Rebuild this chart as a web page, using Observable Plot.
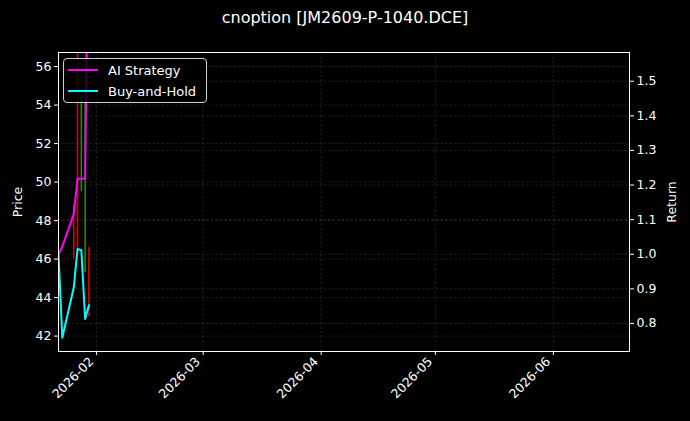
<!DOCTYPE html>
<html>
<head>
<meta charset="utf-8">
<script src="https://cdn.jsdelivr.net/npm/d3@7"></script>
<script src="https://cdn.jsdelivr.net/npm/@observablehq/plot@0.6"></script>
<style>
  html, body { margin: 0; padding: 0; background: #000; }
  #wrap { position: relative; width: 690px; height: 421px; background: #000; font-family: "DejaVu Sans", sans-serif; color: #fff; }
  #title { height: 36px; box-sizing: border-box; padding-top: 8px; text-align: center; font-size: 16px; line-height: 20px; color: #fff; }
  #legend { position: absolute; left: 63px; top: 58px; width: 144px; height: 45px; box-sizing: border-box;
            border: 1px solid #cfcfcf; border-radius: 4px; background: rgba(0,0,0,0.8); font-size: 13px; }
  .entry { position: absolute; left: 4px; height: 20px; display: flex; align-items: center; }
  .entry span.sw { display: inline-block; width: 30px; height: 2px; margin-right: 10px; }
</style>
</head>
<body>
<div id="wrap">
  <div id="title">cnoption [JM2609-P-1040.DCE]</div>
  <div id="chart"></div>
  <div id="legend">
    <div class="entry" style="top:1px"><span class="sw" style="background:#ff00ff"></span>AI Strategy</div>
    <div class="entry" style="top:22px"><span class="sw" style="background:#00ffff"></span>Buy-and-Hold</div>
  </div>
</div>
<script>
// ---- data ----
const dates = ["2026-01-22","2026-01-23","2026-01-26","2026-01-27","2026-01-28","2026-01-29","2026-01-30"];
const aiStrategy = [1.0, 1.022, 1.116, 1.218, 1.218, 1.218, 2.2];
const buyHold    = [1.0, 0.759, 0.903, 1.015, 1.012, 0.813, 0.853];

const candleDates = ["2026-01-26","2026-01-27","2026-01-28","2026-01-29","2026-01-30"];
const candleOpen  = [46.0, 46.4, 54.5, 54.2, 43.0];
const candleClose = [48.8, 58.0, 49.5, 45.3, 46.6];

const priceTicks  = [42, 44, 46, 48, 50, 52, 54, 56];
const returnTicks = [0.8, 0.9, 1.0, 1.1, 1.2, 1.3, 1.4, 1.5];
const monthTicks  = ["2026-02-01","2026-03-01","2026-04-01","2026-05-01","2026-06-01"];

// ---- scales ----
const xDomain = [new Date("2026-01-22"), new Date("2026-06-21")];
const priceDomain = [41.2, 56.73];
const returnDomain = [0.719, 1.583];
const r2p = r => priceDomain[0] + (r - returnDomain[0]) * (priceDomain[1] - priceDomain[0]) / (returnDomain[1] - returnDomain[0]);
const p2r = p => returnDomain[0] + (p - priceDomain[0]) * (returnDomain[1] - returnDomain[0]) / (priceDomain[1] - priceDomain[0]);

const series = dates.map((d, i) => ({date: new Date(d), ai: r2p(aiStrategy[i]), bh: r2p(buyHold[i])}));
const candles = candleDates.map((d, i) => ({date: new Date(d), open: candleOpen[i], close: candleClose[i], up: candleClose[i] >= candleOpen[i]}));
const months = monthTicks.map(d => new Date(d));

const gridStyle = {stroke: "#8a8a8a", strokeOpacity: 0.38, strokeWidth: 0.6, strokeDasharray: "2.5,2"};

const chart = Plot.plot({
  width: 690,
  height: 385,
  marginTop: 16,
  marginLeft: 58,
  marginRight: 61,
  marginBottom: 70,
  style: {background: "#000", color: "#fff", fontFamily: "DejaVu Sans", fontSize: "12.5px"},
  x: {type: "utc", domain: xDomain},
  y: {domain: priceDomain},
  marks: [
    Plot.gridY(priceTicks, gridStyle),
    Plot.gridY(returnTicks.map(r2p), gridStyle),
    Plot.gridX(months, gridStyle),
    Plot.ruleX(candles.filter(d => d.up), {x: "date", y1: "open", y2: "close", stroke: "#e00000", strokeWidth: 1.6, clip: true}),
    Plot.ruleX(candles.filter(d => !d.up), {x: "date", y1: "open", y2: "close", stroke: "#1c8a1c", strokeWidth: 1.6, clip: true}),
    Plot.line(series, {x: "date", y: "ai", stroke: "#ff00ff", strokeWidth: 2, clip: true}),
    Plot.line(series, {x: "date", y: "bh", stroke: "#00ffff", strokeWidth: 2, clip: true}),
    Plot.frame({stroke: "#fff", strokeWidth: 1}),
    Plot.axisY(priceTicks, {anchor: "left", tickSize: 4, tickPadding: 3, label: "Price", labelAnchor: "center", labelArrow: "none", labelOffset: 45}),
    Plot.axisY(returnTicks.map(r2p), {anchor: "right", tickSize: 4, tickPadding: 3, tickFormat: d => p2r(d).toFixed(1), label: "Return", labelAnchor: "center", labelArrow: "none", labelOffset: 46}),
    Plot.axisX(months, {tickSize: 4, tickFormat: () => "", label: null}),
    Plot.axisX(months, {tickSize: 0, tickPadding: 7, tickFormat: d3.utcFormat("%Y-%m"), tickRotate: -45, dx: -5, dy: 1, label: null})
  ]
});
document.getElementById("chart").appendChild(chart);
</script>
</body>
</html>
